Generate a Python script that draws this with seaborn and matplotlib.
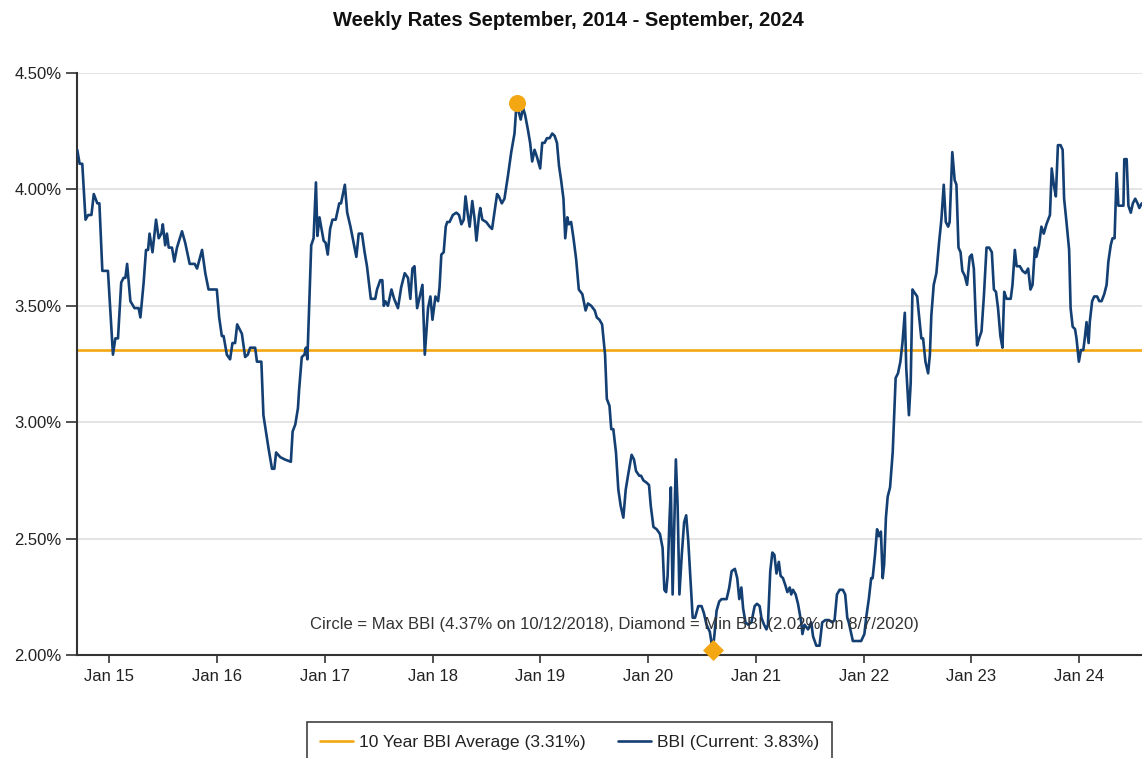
import matplotlib
matplotlib.use("Agg")
import matplotlib.pyplot as plt
from matplotlib import font_manager
from matplotlib.ticker import FuncFormatter
import pandas as pd
import seaborn as sns

# weekly BBI readings (%)
dates = [
    "2014-09-14", "2014-09-22", "2014-10-01", "2014-10-12", "2014-10-21", "2014-11-01", "2014-11-09",
    "2014-11-21", "2014-11-28", "2014-12-08", "2014-12-27",
    "2015-01-13", "2015-01-21", "2015-01-30", "2015-02-10", "2015-02-18", "2015-02-24", "2015-03-02",
    "2015-03-13", "2015-03-27", "2015-04-10", "2015-04-16", "2015-04-27", "2015-05-05", "2015-05-12",
    "2015-05-17", "2015-05-27", "2015-06-08", "2015-06-17", "2015-06-26", "2015-07-01", "2015-07-09",
    "2015-07-15", "2015-07-21", "2015-08-01", "2015-08-09", "2015-08-18", "2015-09-04", "2015-09-15",
    "2015-09-30", "2015-10-17", "2015-10-25", "2015-11-11", "2015-11-22", "2015-12-03", "2015-12-31",
    "2016-01-08", "2016-01-17", "2016-01-23", "2016-02-03", "2016-02-14", "2016-02-22", "2016-03-02",
    "2016-03-09", "2016-03-25", "2016-04-05", "2016-04-14", "2016-04-22", "2016-05-09", "2016-05-15",
    "2016-05-30", "2016-06-06", "2016-06-23", "2016-07-05", "2016-07-13", "2016-07-19", "2016-08-02",
    "2016-08-17", "2016-09-07", "2016-09-13", "2016-09-22", "2016-10-01", "2016-10-05", "2016-10-14",
    "2016-10-23", "2016-10-28", "2016-11-02", "2016-11-15", "2016-11-23", "2016-12-01", "2016-12-06",
    "2016-12-13", "2016-12-27",
    "2017-01-03", "2017-01-10", "2017-01-18", "2017-01-26", "2017-02-06", "2017-02-18", "2017-02-24",
    "2017-03-09", "2017-03-17", "2017-03-28", "2017-04-17", "2017-04-25", "2017-05-06", "2017-05-15",
    "2017-05-23", "2017-06-05", "2017-06-20", "2017-06-26", "2017-07-07", "2017-07-14", "2017-07-19",
    "2017-07-24", "2017-08-02", "2017-08-14", "2017-08-23", "2017-09-05", "2017-09-16", "2017-09-28",
    "2017-10-09", "2017-10-17", "2017-10-24", "2017-10-31", "2017-11-09", "2017-11-18", "2017-11-27",
    "2017-12-05", "2017-12-16", "2017-12-24", "2017-12-31",
    "2018-01-10", "2018-01-19", "2018-01-24", "2018-01-30", "2018-02-07", "2018-02-14", "2018-02-19",
    "2018-02-27", "2018-03-10", "2018-03-22", "2018-03-31", "2018-04-08", "2018-04-16", "2018-04-22",
    "2018-04-30", "2018-05-06", "2018-05-15", "2018-05-23", "2018-05-29", "2018-06-07", "2018-06-11",
    "2018-06-18", "2018-07-01", "2018-07-13", "2018-07-21", "2018-07-30", "2018-08-07", "2018-08-13",
    "2018-08-23", "2018-09-01", "2018-09-13", "2018-09-24", "2018-10-05", "2018-10-12", "2018-10-18",
    "2018-10-26", "2018-11-03", "2018-11-10", "2018-11-19", "2018-11-27", "2018-12-04", "2018-12-12",
    "2018-12-20", "2018-12-31",
    "2019-01-07", "2019-01-15", "2019-01-23", "2019-02-01", "2019-02-10", "2019-02-18", "2019-02-26",
    "2019-03-05", "2019-03-12", "2019-03-20", "2019-03-26", "2019-04-02", "2019-04-07", "2019-04-15",
    "2019-04-23", "2019-05-02", "2019-05-11", "2019-05-23", "2019-06-03", "2019-06-11", "2019-06-22",
    "2019-07-04", "2019-07-11", "2019-07-20", "2019-07-29", "2019-08-08", "2019-08-14", "2019-08-23",
    "2019-08-29", "2019-09-05", "2019-09-14", "2019-09-22", "2019-09-30", "2019-10-09", "2019-10-17",
    "2019-10-26", "2019-11-06", "2019-11-14", "2019-11-21", "2019-12-02", "2019-12-08", "2019-12-16",
    "2019-12-27",
    "2020-01-04", "2020-01-10", "2020-01-19", "2020-01-30", "2020-02-10", "2020-02-19", "2020-02-25",
    "2020-03-02", "2020-03-07", "2020-03-13", "2020-03-18", "2020-03-24", "2020-03-30", "2020-04-04",
    "2020-04-10", "2020-04-16", "2020-04-24", "2020-05-02", "2020-05-09", "2020-05-16", "2020-05-24",
    "2020-05-31", "2020-06-08", "2020-06-19", "2020-06-30", "2020-07-08", "2020-07-17", "2020-07-28",
    "2020-08-07", "2020-08-13", "2020-08-20", "2020-08-29", "2020-09-06", "2020-09-23", "2020-10-02",
    "2020-10-10", "2020-10-21", "2020-10-29", "2020-11-05", "2020-11-12", "2020-11-18", "2020-11-26",
    "2020-12-05", "2020-12-16", "2020-12-27",
    "2021-01-04", "2021-01-13", "2021-01-19", "2021-01-28", "2021-02-05", "2021-02-10", "2021-02-18",
    "2021-02-25", "2021-03-04", "2021-03-11", "2021-03-19", "2021-03-25", "2021-04-02", "2021-04-10",
    "2021-04-17", "2021-04-25", "2021-04-30", "2021-05-06", "2021-05-15", "2021-05-23", "2021-06-03",
    "2021-06-07", "2021-06-14", "2021-06-26", "2021-07-07", "2021-07-13", "2021-07-24", "2021-08-04",
    "2021-08-13", "2021-08-24", "2021-09-05", "2021-09-16", "2021-09-24", "2021-10-02", "2021-10-11",
    "2021-10-22", "2021-10-30", "2021-11-06", "2021-11-11", "2021-11-25", "2021-12-04", "2021-12-23",
    "2022-01-03", "2022-01-09", "2022-01-18", "2022-01-26", "2022-01-31", "2022-02-08", "2022-02-15",
    "2022-02-21", "2022-02-28", "2022-03-06", "2022-03-11", "2022-03-17", "2022-03-23", "2022-03-31",
    "2022-04-09", "2022-04-19", "2022-04-27", "2022-05-05", "2022-05-12", "2022-05-20", "2022-05-25",
    "2022-06-03", "2022-06-09", "2022-06-15", "2022-06-20", "2022-07-01", "2022-07-07", "2022-07-15",
    "2022-07-21", "2022-07-29", "2022-08-07", "2022-08-13", "2022-08-18", "2022-08-26", "2022-09-04",
    "2022-09-13", "2022-09-21", "2022-09-29", "2022-10-06", "2022-10-14", "2022-10-19", "2022-10-28",
    "2022-11-05", "2022-11-11", "2022-11-18", "2022-11-25", "2022-12-01", "2022-12-09", "2022-12-17",
    "2022-12-26",
    "2023-01-02", "2023-01-09", "2023-01-16", "2023-01-20", "2023-01-27", "2023-02-04", "2023-02-12",
    "2023-02-21", "2023-03-02", "2023-03-11", "2023-03-18", "2023-03-25", "2023-04-01", "2023-04-09",
    "2023-04-16", "2023-04-22", "2023-04-30", "2023-05-14", "2023-05-20", "2023-05-28", "2023-06-03",
    "2023-06-14", "2023-06-23", "2023-07-03", "2023-07-12", "2023-07-20", "2023-07-27", "2023-08-04",
    "2023-08-09", "2023-08-18", "2023-08-26", "2023-09-03", "2023-09-12", "2023-09-24", "2023-09-30",
    "2023-10-07", "2023-10-14", "2023-10-21", "2023-10-30", "2023-11-06", "2023-11-11", "2023-11-19",
    "2023-11-28", "2023-12-03", "2023-12-10", "2023-12-18", "2023-12-23", "2023-12-31",
    "2024-01-07", "2024-01-15", "2024-01-20", "2024-01-26", "2024-02-02", "2024-02-06", "2024-02-14",
    "2024-02-21", "2024-03-02", "2024-03-09", "2024-03-17", "2024-03-26", "2024-04-03", "2024-04-09",
    "2024-04-17", "2024-04-23", "2024-04-30", "2024-05-07", "2024-05-13", "2024-05-30", "2024-06-02",
    "2024-06-10", "2024-06-16", "2024-06-24", "2024-07-01", "2024-07-09", "2024-07-17", "2024-07-23",
    "2024-07-31",
]
bbi = [
    4.17, 4.11, 4.11, 3.87, 3.89, 3.89, 3.98,
    3.94, 3.94, 3.65, 3.65,
    3.29, 3.36, 3.36, 3.60, 3.62, 3.62, 3.68,
    3.52, 3.49, 3.49, 3.45, 3.60, 3.74, 3.74,
    3.81, 3.73, 3.87, 3.79, 3.81, 3.85, 3.76,
    3.81, 3.75, 3.75, 3.69, 3.75, 3.82, 3.77,
    3.68, 3.68, 3.66, 3.74, 3.64, 3.57, 3.57,
    3.45, 3.37, 3.37, 3.29, 3.27, 3.34, 3.34,
    3.42, 3.38, 3.28, 3.29, 3.32, 3.32, 3.26,
    3.26, 3.03, 2.89, 2.80, 2.80, 2.87, 2.85,
    2.84, 2.83, 2.96, 2.99, 3.06, 3.14, 3.28,
    3.29, 3.32, 3.27, 3.76, 3.79, 4.03, 3.80,
    3.88, 3.78,
    3.77, 3.72, 3.83, 3.87, 3.87, 3.94, 3.94,
    4.02, 3.90, 3.84, 3.71, 3.81, 3.81, 3.73,
    3.67, 3.53, 3.53, 3.57, 3.61, 3.61, 3.50,
    3.52, 3.50, 3.57, 3.53, 3.49, 3.58, 3.64,
    3.62, 3.53, 3.66, 3.67, 3.49, 3.54, 3.59,
    3.29, 3.49, 3.54, 3.44,
    3.54, 3.52, 3.58, 3.72, 3.73, 3.84, 3.86,
    3.86, 3.89, 3.90, 3.89, 3.85, 3.87, 3.97,
    3.89, 3.84, 3.95, 3.87, 3.78, 3.89, 3.92,
    3.87, 3.86, 3.84, 3.83, 3.91, 3.98, 3.97,
    3.94, 3.96, 4.06, 4.16, 4.24, 4.37, 4.34,
    4.30, 4.35, 4.32, 4.26, 4.20, 4.12, 4.17,
    4.14, 4.09,
    4.20, 4.20, 4.22, 4.22, 4.24, 4.23, 4.20,
    4.10, 4.04, 3.96, 3.79, 3.88, 3.85, 3.86,
    3.79, 3.70, 3.57, 3.55, 3.48, 3.51, 3.50,
    3.48, 3.45, 3.44, 3.42, 3.29, 3.10, 3.07,
    2.97, 2.97, 2.87, 2.71, 2.64, 2.59, 2.71,
    2.78, 2.86, 2.84, 2.79, 2.77, 2.77, 2.75,
    2.74,
    2.73, 2.64, 2.55, 2.54, 2.52, 2.46, 2.28,
    2.27, 2.34, 2.57, 2.72, 2.26, 2.57, 2.84,
    2.64, 2.26, 2.43, 2.57, 2.60, 2.49, 2.31,
    2.16, 2.16, 2.21, 2.21, 2.18, 2.13, 2.10,
    2.02, 2.09, 2.19, 2.23, 2.24, 2.24, 2.29,
    2.36, 2.37, 2.33, 2.24, 2.29, 2.20, 2.14,
    2.13, 2.14, 2.21,
    2.22, 2.21, 2.16, 2.13, 2.11, 2.13, 2.36,
    2.44, 2.43, 2.35, 2.40, 2.34, 2.33, 2.30,
    2.27, 2.29, 2.26, 2.28, 2.26, 2.22, 2.14,
    2.09, 2.13, 2.11, 2.14, 2.08, 2.04, 2.04,
    2.14, 2.15, 2.15, 2.14, 2.15, 2.26, 2.28,
    2.28, 2.26, 2.16, 2.14, 2.06, 2.06, 2.06,
    2.09, 2.16, 2.24, 2.33, 2.33, 2.43, 2.54,
    2.51, 2.53, 2.33, 2.39, 2.59, 2.68, 2.72,
    2.87, 3.19, 3.21, 3.26, 3.34, 3.47, 3.23,
    3.03, 3.17, 3.57, 3.56, 3.54, 3.46, 3.36,
    3.36, 3.26, 3.21, 3.29, 3.46, 3.59, 3.64,
    3.77, 3.87, 4.02, 3.86, 3.84, 3.86, 4.16,
    4.04, 4.02, 3.75, 3.73, 3.65, 3.63, 3.59,
    3.71,
    3.72, 3.66, 3.43, 3.33, 3.36, 3.39, 3.54,
    3.75, 3.75, 3.73, 3.57, 3.56, 3.49, 3.37,
    3.32, 3.56, 3.53, 3.53, 3.59, 3.74, 3.67,
    3.67, 3.65, 3.64, 3.66, 3.57, 3.59, 3.75,
    3.71, 3.76, 3.84, 3.81, 3.85, 3.89, 4.09,
    4.02, 3.97, 4.19, 4.19, 4.17, 3.96, 3.86,
    3.74, 3.49, 3.41, 3.40, 3.36, 3.26,
    3.31, 3.31, 3.36, 3.43, 3.34, 3.43, 3.52,
    3.54, 3.54, 3.52, 3.52, 3.55, 3.59, 3.69,
    3.76, 3.79, 3.79, 4.07, 3.93, 3.93, 4.13,
    4.13, 3.93, 3.90, 3.94, 3.96, 3.94, 3.92,
    3.94,
]

avg_rate = 3.31
current_rate = 3.83
max_date, max_rate = "2018-10-12", 4.37
min_date, min_rate = "2020-08-07", 2.02
tick_years = list(range(2015, 2025))
y_ticks = [2.0, 2.5, 3.0, 3.5, 4.0, 4.5]

ORANGE = "#f3a712"
NAVY = "#133f73"

sns.set_theme(style="white")
plt.rcParams["font.family"] = ["Liberation Sans", "DejaVu Sans"]

installed = {f.name for f in font_manager.fontManager.ttflist}
title_font = ["Liberation Sans Narrow"] if "Liberation Sans Narrow" in installed else ["Liberation Sans"]

df = pd.DataFrame({"date": pd.to_datetime(dates), "rate": bbi})

fig = plt.figure(figsize=(11.42, 7.58), dpi=100)
ax = fig.add_axes([0.0674, 0.1359, 0.9326, 0.7678])

ax.axhline(avg_rate, color=ORANGE, lw=1.9, zorder=2,
           label=f"10 Year BBI Average ({avg_rate:.2f}%)")
sns.lineplot(data=df, x="date", y="rate", ax=ax, color=NAVY, lw=1.9, zorder=3,
             label=f"BBI (Current: {current_rate:.2f}%)")

ax.scatter(pd.to_datetime([max_date]), [max_rate], s=150, color=ORANGE,
           zorder=5, clip_on=False, linewidths=0)
ax.scatter(pd.to_datetime([min_date]), [min_rate], s=115, marker="D", color=ORANGE,
           zorder=5, clip_on=False, linewidths=0)

ax.text(0.505, 0.052,
        f"Circle = Max BBI ({max_rate:.2f}% on 10/12/2018), "
        f"Diamond = Min BBI ({min_rate:.2f}% on 8/7/2020)",
        transform=ax.transAxes, ha="center", va="center", fontsize=12,
        color="#333333", zorder=4)

ax.set_xlim(pd.Timestamp("2014-09-13"), pd.Timestamp("2024-08-01"))
ax.set_ylim(2.0, 4.5)
ax.set_yticks(y_ticks)
ax.yaxis.set_major_formatter(FuncFormatter(lambda v, p: f"{v:.2f}%"))
ax.set_xticks(pd.to_datetime([f"{y}-01-01" for y in tick_years]))
ax.set_xticklabels([f"Jan {y % 100:02d}" for y in tick_years])
ax.set_xlabel("")
ax.set_ylabel("")

ax.grid(axis="y", color="#dcdcdc", lw=1.1)
ax.grid(axis="x", visible=False)
ax.set_axisbelow(True)
for side in ["top", "right"]:
    ax.spines[side].set_visible(False)
for side in ["left", "bottom"]:
    ax.spines[side].set_color("#333333")
    ax.spines[side].set_linewidth(1.5)
ax.tick_params(axis="y", left=True, length=8, width=1.2, color="#333333",
               labelsize=12, labelcolor="#222222", pad=3)
ax.tick_params(axis="x", bottom=True, length=6, width=1.2, color="#333333",
               labelsize=12, labelcolor="#222222", pad=4)

handles, labels = ax.get_legend_handles_labels()
ax.get_legend().remove()
leg = fig.legend(handles, labels, loc="upper center", bbox_to_anchor=(0.4987, 0.0475),
                 borderaxespad=0, ncol=2, frameon=True, fancybox=False, fontsize=12.6,
                 borderpad=0.75, handlelength=1.9, handletextpad=0.35, columnspacing=1.8)
leg.get_frame().set_edgecolor("#111111")
leg.get_frame().set_linewidth(1.2)
for t in leg.get_texts():
    t.set_color("#222222")

fig.text(0.498, 1 - 20 / 758, "Weekly Rates September, 2014 - September, 2024",
         ha="center", va="center", fontsize=14.5, fontweight="bold",
         family=title_font, color="#111111")

fig.savefig("out.png", dpi=100)
plt.close(fig)
